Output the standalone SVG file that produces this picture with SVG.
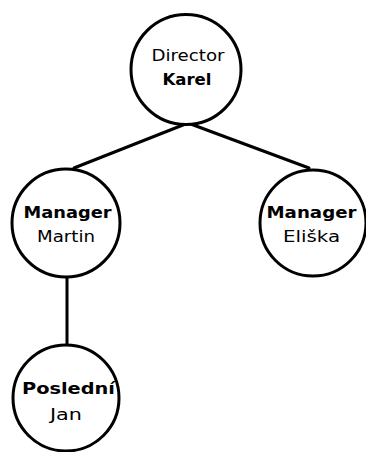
<svg xmlns="http://www.w3.org/2000/svg" width="366" height="452" viewBox="0 0 366 452">
  <style>
    .node { fill: #ffffff; stroke: #000000; stroke-width: 3; }
    .edge { stroke: #000000; stroke-width: 3; fill: none; stroke-linecap: round; }
    text { font-family: "DejaVu Sans", "Liberation Sans", sans-serif; font-size: 16px; fill: #000000; text-anchor: middle; }
    .b { font-weight: bold; }
  </style>
  <rect width="366" height="452" fill="#ffffff"/>

  <!-- reporting lines -->
  <g id="connectors">
    <line class="edge" x1="188" y1="123" x2="74" y2="168"/>
    <line class="edge" x1="188" y1="123" x2="309" y2="168"/>
    <line class="edge" x1="67" y1="277" x2="67" y2="345"/>
  </g>

  <g id="director">
    <circle class="node" cx="186" cy="69.5" r="55"/>
    <text x="188" y="60.5" textLength="73" lengthAdjust="spacingAndGlyphs">Director</text>
    <text class="b" x="187" y="84.5" textLength="49" lengthAdjust="spacingAndGlyphs">Karel</text>
  </g>

  <g id="manager-martin">
    <circle class="node" cx="66" cy="223" r="54"/>
    <text class="b" x="67.5" y="217.5" textLength="88" lengthAdjust="spacingAndGlyphs">Manager</text>
    <text x="66" y="241.5" textLength="58" lengthAdjust="spacingAndGlyphs">Martin</text>
  </g>

  <g id="manager-eliska">
    <circle class="node" cx="313" cy="223" r="53"/>
    <text class="b" x="311.5" y="217.5" textLength="90" lengthAdjust="spacingAndGlyphs">Manager</text>
    <text x="311.5" y="241.5" textLength="57" lengthAdjust="spacingAndGlyphs">Eliška</text>
  </g>

  <g id="posledni-jan">
    <circle class="node" cx="66" cy="398" r="53"/>
    <text class="b" x="68.5" y="393.5" textLength="93" lengthAdjust="spacingAndGlyphs">Poslední</text>
    <text x="66" y="420" textLength="32" lengthAdjust="spacingAndGlyphs">Jan</text>
  </g>
</svg>
